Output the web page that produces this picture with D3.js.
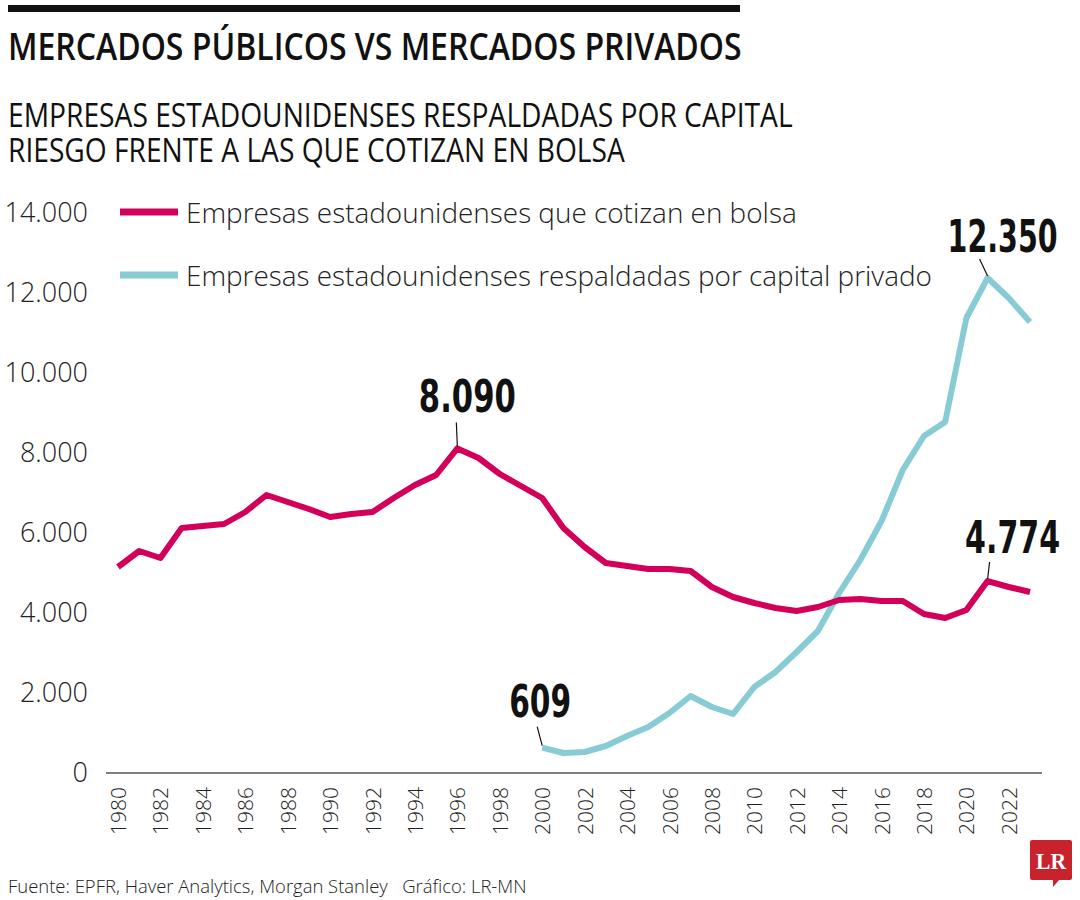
<!DOCTYPE html>
<html>
<head>
<meta charset="utf-8">
<script src="https://cdn.jsdelivr.net/npm/d3@7"></script>
<style>
  html, body { margin: 0; padding: 0; background: #ffffff; }
  svg { display: block; }
  text { white-space: pre; }
</style>
</head>
<body>
<svg id="chart" width="1080" height="900"></svg>
<script>
// ---------- DATA ----------
const years = d3.range(1980, 2024);
const publicValues = [5125, 5525, 5350, 6100, 6150, 6200, 6500, 6925, 6750, 6575,
  6375, 6450, 6500, 6850, 7175, 7425, 8090, 7850, 7450, 7150,
  6850, 6100, 5625, 5225, 5150, 5075, 5075, 5025, 4625, 4375,
  4225, 4100, 4025, 4125, 4300, 4325, 4275, 4275, 3950, 3850,
  4050, 4774, 4625, 4500];
const privateYears = d3.range(2000, 2024);
const privateValues = [609, 475, 500, 650, 900, 1125, 1475, 1900, 1625, 1450,
  2125, 2500, 3000, 3525, 4475, 5300, 6275, 7550, 8400, 8750,
  11350, 12350, 11850, 11250];
const yTicks = [0, 2000, 4000, 6000, 8000, 10000, 12000, 14000];
const xTicks = d3.range(1980, 2023, 2);
const seriesNames = [
  "Empresas estadounidenses que cotizan en bolsa",
  "Empresas estadounidenses respaldadas por capital privado"
];
const annotationYears = [1996, 2021, 2021, 2000];
const annotationSeries = ["public", "private", "public", "private"];
const title = "MERCADOS PÚBLICOS VS MERCADOS PRIVADOS";
const subtitleLines = [
  "EMPRESAS ESTADOUNIDENSES RESPALDADAS POR CAPITAL",
  "RIESGO FRENTE A LAS QUE COTIZAN EN BOLSA"
];
const sourceText = "Fuente: EPFR, Haver Analytics, Morgan Stanley   Gráfico: LR-MN";

// ---------- STYLE ----------
const RED = "#d2005a";
const CYAN = "#87ccd4";
const lightFont = "'Open Sans', 'Noto Sans', sans-serif";
const condFont = "'DejaVu Sans Condensed', 'DejaVu Sans', sans-serif";

const locale = d3.formatLocale({ decimal: ",", thousands: ".", grouping: [3], currency: ["", ""] });
const fmt = locale.format(",");

const svg = d3.select("#chart");

const x = d3.scaleLinear().domain([1980, 2023]).range([118, 1030]);
const y = d3.scaleLinear().domain([0, 14000]).range([772, 212]);

// helper: draw text squeezed horizontally to a target width
function fitText(parent, tx, ty, str, width, anchor, attrs) {
  const g = parent.append("g").attr("transform", `translate(${tx},${ty})`);
  const t = g.append("text").attr("text-anchor", anchor).attr("xml:space", "preserve").text(str);
  Object.entries(attrs).forEach(([k, v]) => t.attr(k, v));
  const w = t.node().getComputedTextLength();
  t.attr("transform", `scale(${width / w},1)`);
  return t;
}

// top bar
svg.append("rect").attr("x", 8).attr("y", 5).attr("width", 732).attr("height", 7).attr("fill", "#111");

// title
fitText(svg, 8, 60, title, 734, "start", {
  "font-family": lightFont, "font-weight": 600, "font-size": 37, "fill": "#111"
});

const subLens = [785, 617];
subtitleLines.forEach((t, i) => {
  fitText(svg, 8, 127 + i * 35, t, subLens[i], "start", {
    "font-family": lightFont, "font-weight": 400, "font-size": 33, "fill": "#111"
  });
});

// y axis
const yAxis = d3.axisLeft(y).tickValues(yTicks).tickSize(0).tickPadding(8).tickFormat(fmt);
const gy = svg.append("g").attr("transform", "translate(96,0)").call(yAxis);
gy.select(".domain").remove();
gy.selectAll("text").attr("font-family", lightFont).attr("font-weight", 300)
  .attr("font-size", 27).attr("fill", "#222").attr("dy", "0.36em");

// x axis
const xAxis = d3.axisBottom(x).tickValues(xTicks).tickSize(0).tickFormat(d3.format("d"));
const gx = svg.append("g").attr("transform", "translate(0,773)").call(xAxis);
gx.select(".domain").remove();
gx.selectAll("text")
  .attr("font-family", lightFont).attr("font-weight", 300).attr("font-size", 21).attr("fill", "#222")
  .attr("text-anchor", "start")
  .attr("transform", "translate(0,62) rotate(-90)")
  .attr("x", 0).attr("y", 0).attr("dy", "0.36em");

svg.append("line").attr("x1", 106).attr("x2", 1042).attr("y1", 773).attr("y2", 773)
  .attr("stroke", "#7f7f7f").attr("stroke-width", 2.2);

// lines
const line = d3.line().x(d => x(d[0])).y(d => y(d[1]));
const publicData = years.map((yr, i) => [yr, publicValues[i]]);
const privateData = privateYears.map((yr, i) => [yr, privateValues[i]]);

svg.append("path").datum(privateData).attr("d", line)
  .attr("fill", "none").attr("stroke", CYAN).attr("stroke-width", 6).attr("stroke-linejoin", "round");
svg.append("path").datum(publicData).attr("d", line)
  .attr("fill", "none").attr("stroke", RED).attr("stroke-width", 6).attr("stroke-linejoin", "round");

// legend
const legendColors = [RED, CYAN];
const legendLens = [611, 746];
seriesNames.forEach((name, i) => {
  const ly = 212 + i * 63;
  svg.append("line").attr("x1", 120).attr("x2", 178).attr("y1", ly).attr("y2", ly)
    .attr("stroke", legendColors[i]).attr("stroke-width", 7);
  fitText(svg, 186, ly + 11, name, legendLens[i], "start", {
    "font-family": lightFont, "font-weight": 300, "font-size": 28, "fill": "#222"
  });
});

// annotations
const annLeader = [[-1, -26], [-8, -19], [2, -19], [-5, -21]];
const annText = [[10, -36], [15, -26], [25, -28], [-2, -31]];
const annLen = [97, 110, 95, 62];
annotationYears.forEach((yr, i) => {
  const vals = annotationSeries[i] === "public" ? publicData : privateData;
  const v = vals.find(d => d[0] === yr)[1];
  const px = x(yr), py = y(v);
  svg.append("line").attr("x1", px).attr("y1", py - 2)
    .attr("x2", px + annLeader[i][0]).attr("y2", py + annLeader[i][1])
    .attr("stroke", "#111").attr("stroke-width", 1.2);
  fitText(svg, px + annText[i][0], py + annText[i][1], fmt(v), annLen[i], "middle", {
    "font-family": condFont, "font-weight": 700, "font-size": 44, "fill": "#111"
  });
});

// source
fitText(svg, 8, 893, sourceText, 519, "start", {
  "font-family": lightFont, "font-weight": 300, "font-size": 19, "fill": "#222"
});

// LR logo
const logo = svg.append("g").attr("transform", "translate(1030,840)");
logo.append("path")
  .attr("d", "M2,0 H40 Q42,0 42,2 V38 Q42,40 40,40 H29 L23,47 V40 H2 Q0,40 0,38 V2 Q0,0 2,0 Z")
  .attr("fill", "#c8232c");
logo.append("text").attr("x", 21).attr("y", 29).attr("text-anchor", "middle")
  .attr("font-family", "'Liberation Serif', 'DejaVu Serif', serif").attr("font-weight", 700)
  .attr("font-size", 23).attr("fill", "#fff").attr("textLength", 30).attr("lengthAdjust", "spacingAndGlyphs").text("LR");
</script>
</body>
</html>
